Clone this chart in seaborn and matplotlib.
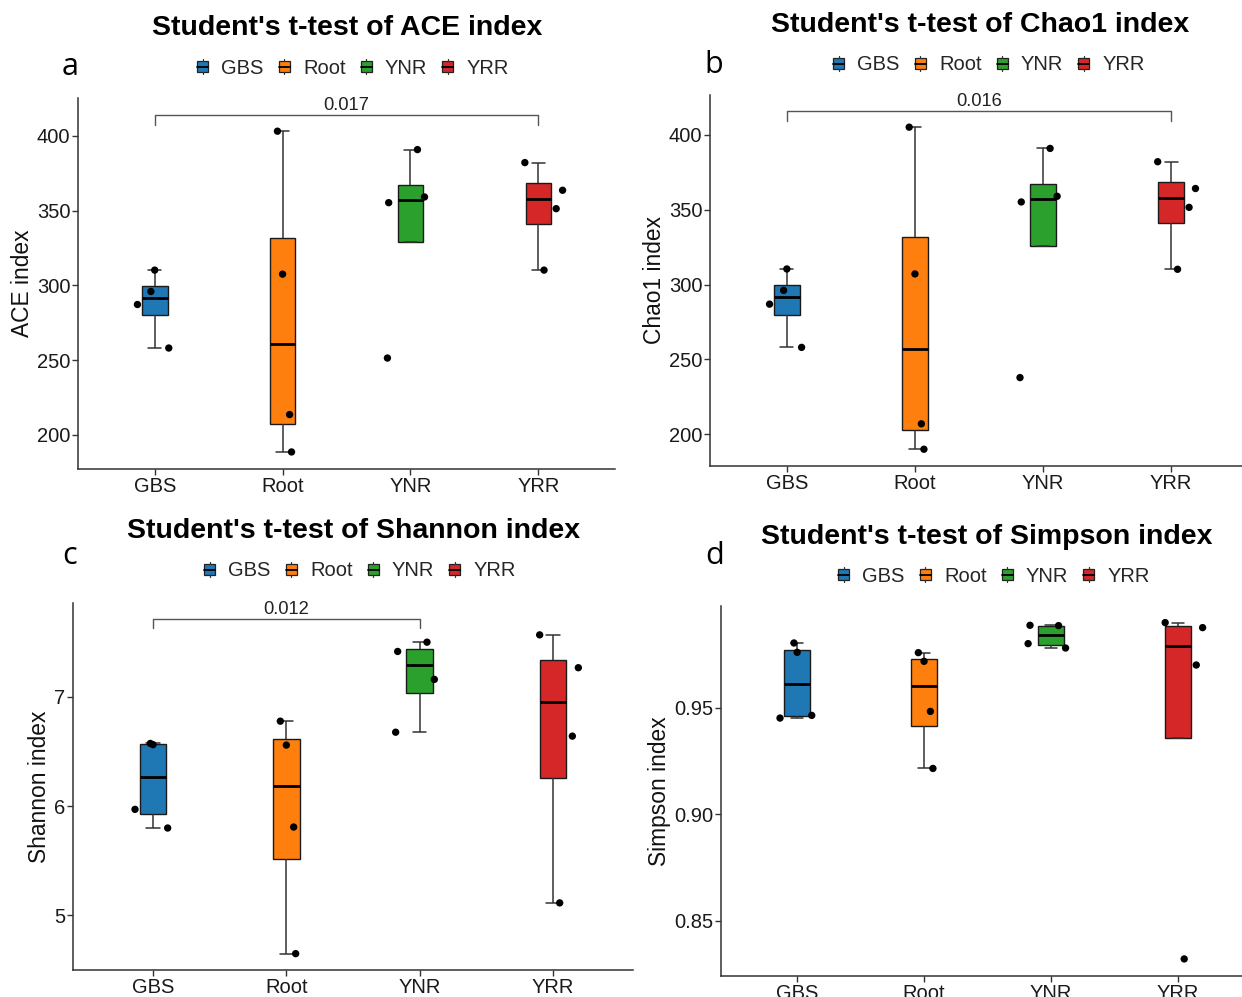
import numpy as np
import pandas as pd
import matplotlib
matplotlib.use("Agg")
import matplotlib.pyplot as plt
import seaborn as sns
from matplotlib.patches import Rectangle
from matplotlib.lines import Line2D
from matplotlib.legend_handler import HandlerBase

# ---------------- data ----------------
groups = ["GBS", "Root", "YNR", "YRR"]
colors = ["#1f77b4", "#ff7f0e", "#2ca02c", "#d62728"]

ace_values = [[310.2, 295.9, 287.2, 258.1],
              [403.1, 307.5, 213.6, 188.6],
              [390.8, 359.1, 355.3, 251.4],
              [382.1, 363.6, 351.3, 310.2]]
chao1_values = [[310.4, 296.1, 286.9, 258.0],
                [405.2, 307.1, 206.9, 189.9],
                [391.0, 359.0, 355.2, 237.8],
                [382.1, 364.2, 351.6, 310.2]]
shannon_values = [[6.574, 6.563, 5.970, 5.799],
                  [6.778, 6.559, 5.808, 4.648],
                  [7.502, 7.417, 7.161, 6.677],
                  [7.569, 7.268, 6.641, 5.113]]
simpson_values = [[0.98036, 0.97598, 0.94640, 0.94515],
                  [0.97582, 0.97175, 0.94828, 0.92152],
                  [0.98865, 0.98850, 0.98005, 0.97801],
                  [0.98991, 0.98756, 0.97003, 0.83220]]

# horizontal jitter of the points (fraction of category spacing)
ace_jitter = [[0.0, -0.03, -0.135, 0.11], [-0.04, 0.0, 0.055, 0.07],
              [0.055, 0.11, -0.17, -0.18], [-0.105, 0.19, 0.14, 0.045]]
chao1_jitter = [[0.0, -0.025, -0.135, 0.115], [-0.045, 0.0, 0.05, 0.07],
                [0.055, 0.11, -0.17, -0.18], [-0.105, 0.19, 0.14, 0.05]]
shannon_jitter = [[-0.02, 0.0, -0.135, 0.11], [-0.045, 0.0, 0.055, 0.07],
                  [0.055, -0.165, 0.11, -0.18], [-0.10, 0.19, 0.145, 0.05]]
simpson_jitter = [[-0.025, 0.0, 0.115, -0.135], [-0.045, 0.0, 0.05, 0.07],
                  [-0.165, 0.06, -0.18, 0.115], [-0.10, 0.195, 0.145, 0.05]]

titles = ["Student's t-test of ACE index", "Student's t-test of Chao1 index",
          "Student's t-test of Shannon index", "Student's t-test of Simpson index"]
ylabels = ["ACE index", "Chao1 index", "Shannon index", "Simpson index"]
letters = ["a", "b", "c", "d"]
comparisons = [("GBS", "YRR", "0.017"), ("GBS", "YRR", "0.016"),
               ("GBS", "YNR", "0.012"), None]
yticks_list = [[200, 250, 300, 350, 400], [200, 250, 300, 350, 400],
               [5, 6, 7], [0.85, 0.90, 0.95]]
ytick_labels = [["200", "250", "300", "350", "400"], ["200", "250", "300", "350", "400"],
                ["5", "6", "7"], ["0.85", "0.90", "0.95"]]
ylims = [(177.2, 425.3), (178.7, 426.7), (4.498, 7.861), (0.8242, 0.9977)]

# ---------------- layout (pixels) ----------------
W, H = 1242, 997
# left, right, top, bottom of each plotting area
boxes_px = [(78, 615, 98, 469), (710, 1248, 95, 466),
            (73, 633, 603, 970), (721, 1254, 606, 976)]
title_px = [(347, 28), (980, 25), (354, 531), (987, 537)]
legend_px = [(353, 68), (989, 65), (360, 571), (994, 576)]
letter_px = [(70, 67), (714, 65), (70, 556), (715, 556)]

sns.set_theme(style="white")
plt.rcParams['font.family'] = ['Liberation Sans', 'DejaVu Sans']

fig = plt.figure(figsize=(W / 100, H / 100), dpi=100)


class BoxKeyHandler(HandlerBase):
    def create_artists(self, legend, orig_handle, xdescent, ydescent,
                       width, height, fontsize, trans):
        fc = orig_handle.get_facecolor()
        x0, y0 = -xdescent, -ydescent
        rect = Rectangle((x0, y0 + height * 0.15), width, height * 0.7,
                         facecolor=fc, edgecolor="#222222", lw=0.9, transform=trans)
        med = Line2D([x0, x0 + width], [y0 + height * 0.5] * 2,
                     color="black", lw=1.3, transform=trans)
        w1 = Line2D([x0 + width / 2] * 2, [y0 + height * 0.85, y0 + height],
                    color="#333333", lw=0.9, transform=trans)
        w2 = Line2D([x0 + width / 2] * 2, [y0, y0 + height * 0.15],
                    color="#333333", lw=0.9, transform=trans)
        return [rect, med, w1, w2]


all_values = [ace_values, chao1_values, shannon_values, simpson_values]
all_jitter = [ace_jitter, chao1_jitter, shannon_jitter, simpson_jitter]

for i in range(4):
    l, r, t, b = boxes_px[i]
    ax = fig.add_axes([l / W, 1 - b / H, (r - l) / W, (b - t) / H])
    vals = all_values[i]
    jit = all_jitter[i]
    rows = []
    for gi, g in enumerate(groups):
        for v, j in zip(vals[gi], jit[gi]):
            rows.append({"group": g, "pos": gi, "value": v, "xj": gi + j})
    df = pd.DataFrame(rows)

    sns.boxplot(data=df, x="pos", y="value", hue="group", hue_order=groups,
                palette=colors, saturation=1, native_scale=True, width=0.2,
                whis=1.5, showfliers=False, linewidth=1.0, linecolor="#1a1a1a",
                medianprops=dict(color="black", linewidth=2.0),
                whiskerprops=dict(color="#333333", linewidth=1.1),
                capprops=dict(color="#333333", linewidth=1.1),
                legend=False, ax=ax, zorder=2)
    sns.scatterplot(data=df, x="xj", y="value", color="black", s=28,
                    edgecolor="none", legend=False, ax=ax, zorder=4)

    ax.set_xlim(-0.6, 3.6)
    ax.set_ylim(*ylims[i])
    ax.set_xticks(range(len(groups)))
    ax.set_xticklabels(groups)
    ax.set_yticks(yticks_list[i])
    ax.set_yticklabels(ytick_labels[i])
    ax.set_xlabel("")
    ax.set_ylabel(ylabels[i], fontsize=16.4, color="#111111", labelpad=2)
    for s in ["top", "right"]:
        ax.spines[s].set_visible(False)
    for s in ["left", "bottom"]:
        ax.spines[s].set_color("#333333")
        ax.spines[s].set_linewidth(1.1)
    ax.tick_params(axis="both", which="major", labelsize=14.5, colors="#333333",
                   labelcolor="#1a1a1a", length=4, width=1.0, direction="out",
                   left=True, bottom=True, pad=1.5)
    ax.grid(False)

    comp = comparisons[i]
    if comp is not None:
        flat = [v for grp in vals for v in grp]
        rng = max(flat) - min(flat)
        ybr = max(flat) + 0.05 * rng
        tip = 0.03 * rng
        x1, x2 = groups.index(comp[0]), groups.index(comp[1])
        ax.plot([x1, x1, x2, x2], [ybr - tip, ybr, ybr, ybr - tip],
                color="#555555", lw=1.0, zorder=3, clip_on=False)
        ax.annotate(comp[2], xy=((x1 + x2) / 2, ybr), xytext=(0, 1),
                    textcoords="offset points", ha="center", va="bottom",
                    fontsize=13.2, color="#222222", annotation_clip=False)

    tx, ty = title_px[i]
    fig.text(tx / W, 1 - ty / H, titles[i], ha="center", va="center",
             fontsize=20.5, fontweight="bold", color="black")
    lx, ly = letter_px[i]
    fig.text(lx / W, 1 - ly / H, letters[i], ha="center", va="center",
             fontsize=22, family=["Open Sans", "DejaVu Sans"], color="black")

    handles = [Rectangle((0, 0), 1, 1, facecolor=c) for c in colors]
    gx, gy = legend_px[i]
    fig.legend(handles, groups, loc="center", bbox_to_anchor=(gx / W, 1 - gy / H),
               ncol=4, frameon=False, fontsize=14.5, handlelength=0.55,
               handleheight=0.8, handletextpad=0.65, columnspacing=0.75,
               borderpad=0.0, borderaxespad=0.0,
               handler_map={Rectangle: BoxKeyHandler()})

fig.savefig("out.png", dpi=100)
